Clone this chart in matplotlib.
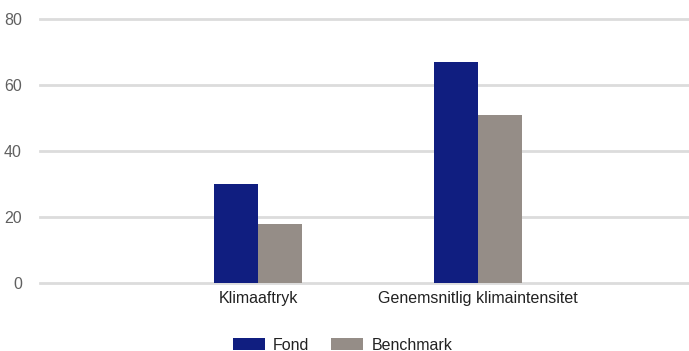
import numpy as np
import matplotlib.pyplot as plt
from matplotlib.patches import Patch

# Climate metrics: fund vs. benchmark
categories = ['Klimaaftryk', 'Genemsnitlig klimaintensitet']
series_names = ['Fond', 'Benchmark']
fond = [30, 67]
benchmark = [18, 51]
yticks = [0, 20, 40, 60, 80]

colors = ['#101e80', '#958d87']
grid_color = '#dcdcdc'
label_color = '#606060'

plt.rcParams['font.family'] = 'Liberation Sans'

fig = plt.figure(figsize=(6.89, 3.51), dpi=100)
ax = fig.add_axes([40 / 689, 1 - 283 / 351, 649 / 689, 264 / 351])

x = np.arange(len(categories))
width = 0.2
ax.bar(x - width / 2, fond, width, color=colors[0], zorder=3)
ax.bar(x + width / 2, benchmark, width, color=colors[1], zorder=3)

ax.set_ylim(0, 80)
ax.set_xlim(-0.992, 1.958)
ax.set_yticks(yticks)
ax.set_yticklabels([str(t) for t in yticks], color=label_color, fontsize=11.5)
ax.set_xticks(x)
ax.set_xticklabels(categories, color='#222222', fontsize=11.5)
ax.tick_params(axis='y', length=0, pad=13)
ax.tick_params(axis='x', length=0, pad=6)

for t in yticks:
    ax.axhline(t, color=grid_color, linewidth=2, zorder=1, clip_on=False)

for s in ax.spines.values():
    s.set_visible(False)

handles = [Patch(facecolor=c, edgecolor='none') for c in colors]
fig.legend(handles, series_names, loc='center', bbox_to_anchor=(0.497, 1 - 345 / 351),
           ncol=2, frameon=False, fontsize=11.5, handlelength=2.0, handleheight=0.8,
           handletextpad=0.5, columnspacing=1.4, labelcolor='#222222')

fig.savefig('out.png', dpi=100)
